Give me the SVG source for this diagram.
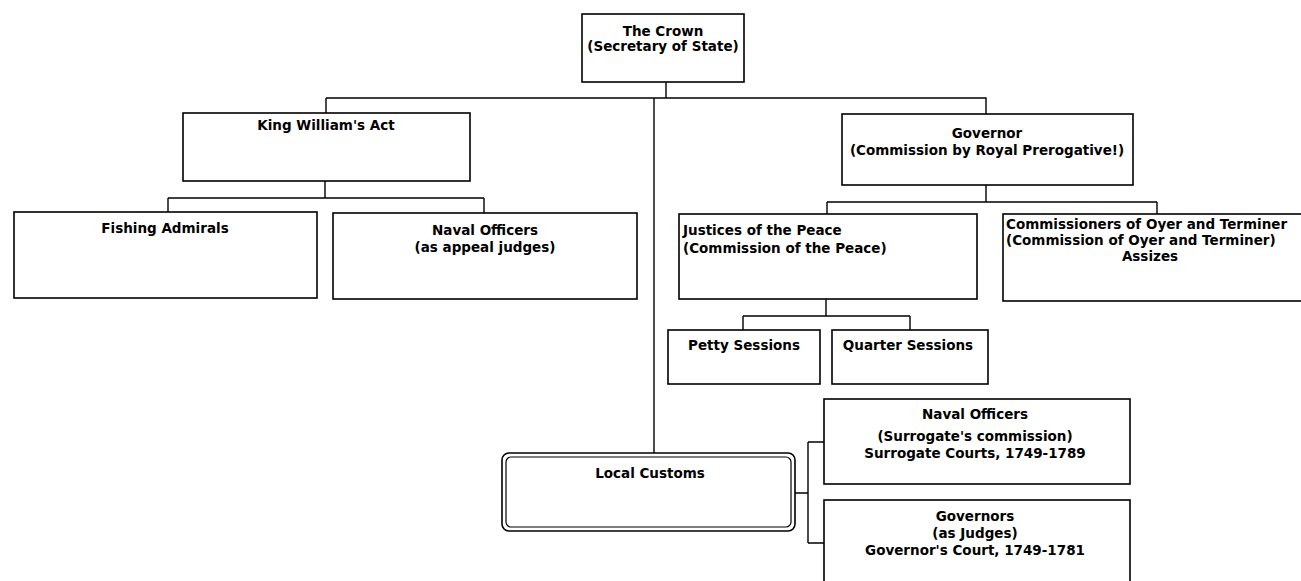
<svg xmlns="http://www.w3.org/2000/svg" width="1301" height="581" viewBox="0 0 1301 581">
<style>
.box{fill:#fff;stroke:#000;stroke-width:1.6}
.ln{fill:none;stroke:#000;stroke-width:1.4}
text{font-family:"DejaVu Sans","Liberation Sans",sans-serif;font-weight:bold;font-size:13.5px;fill:#000}
.c{text-anchor:middle}
</style>
<rect width="1301" height="581" fill="#fff"/>
<g id="connectors">
<path class="ln" d="M666 82V98M326 98H986V114M326 98V113"/>
<path class="ln" d="M654 98V453"/>
<path class="ln" d="M325 181V198M168 198H484M168 198V212M484 198V213"/>
<path class="ln" d="M986 185V202M827 202H1157M827 202V214M1157 202V214"/>
<path class="ln" d="M826 299V316M743 316H910M743 316V330M910 316V330"/>
<path class="ln" d="M795 493H808M808 442V543M808 442H824M808 543H824"/>
</g>
<g id="crown"><rect class="box" x="582" y="14" width="162" height="68"/>
<text class="c" x="663" y="36">The Crown</text><text class="c" x="663" y="51">(Secretary of State)</text></g>
<g id="king"><rect class="box" x="183" y="113" width="287" height="68"/>
<text class="c" x="326" y="130">King William's Act</text></g>
<g id="governor"><rect class="box" x="842" y="114" width="291" height="71"/>
<text class="c" x="987" y="138">Governor</text><text class="c" x="987" y="155">(Commission by Royal Prerogative!)</text></g>
<g id="fishing"><rect class="box" x="14" y="212" width="303" height="86"/>
<text class="c" x="165" y="233">Fishing Admirals</text></g>
<g id="naval-appeal"><rect class="box" x="333" y="213" width="304" height="86"/>
<text class="c" x="485" y="235">Naval Officers</text><text class="c" x="485" y="252">(as appeal judges)</text></g>
<g id="justices"><rect class="box" x="679" y="214" width="298" height="85"/>
<text x="683" y="235">Justices of the Peace</text><text x="683" y="253">(Commission of the Peace)</text></g>
<g id="oyer"><rect class="box" x="1003" y="214" width="310" height="87"/>
<text x="1006" y="229">Commissioners of Oyer and Terminer</text><text x="1006" y="245">(Commission of Oyer and Terminer)</text><text class="c" x="1150" y="261">Assizes</text></g>
<g id="petty"><rect class="box" x="668" y="330" width="152" height="54"/>
<text class="c" x="744" y="350">Petty Sessions</text></g>
<g id="quarter"><rect class="box" x="832" y="330" width="156" height="54"/>
<text class="c" x="908" y="350">Quarter Sessions</text></g>
<g id="local-customs"><rect class="box" x="502" y="453" width="293" height="78" rx="7"/>
<rect fill="none" stroke="#000" stroke-width="1.2" x="506" y="457" width="285" height="70" rx="5"/>
<text class="c" x="650" y="478">Local Customs</text></g>
<g id="naval-surrogate"><rect class="box" x="824" y="399" width="306" height="85"/>
<text class="c" x="975" y="419">Naval Officers</text><text class="c" x="975" y="441">(Surrogate's commission)</text><text class="c" x="975" y="458">Surrogate Courts, 1749-1789</text></g>
<g id="governors-judges"><rect class="box" x="824" y="500" width="306" height="90"/>
<text class="c" x="975" y="521">Governors</text><text class="c" x="975" y="538">(as Judges)</text><text class="c" x="975" y="555">Governor's Court, 1749-1781</text></g>
</svg>
